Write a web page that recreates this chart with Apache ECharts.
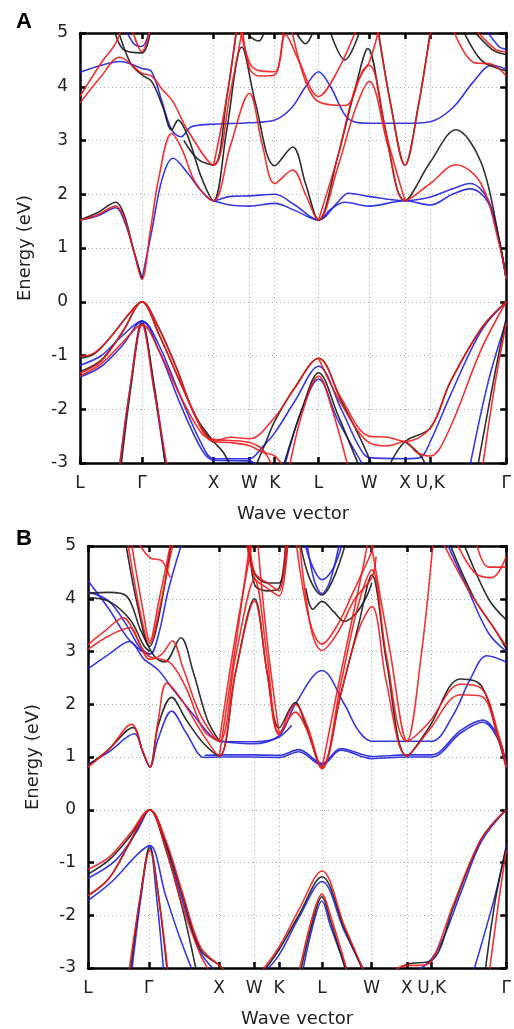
<!DOCTYPE html>
<html>
<head>
<meta charset="utf-8">
<script src="https://cdn.jsdelivr.net/npm/echarts/dist/echarts.min.js"></script>
<style>
html,body{margin:0;padding:0;background:#fff;}
#main{width:514px;height:1029px;}
</style>
</head>
<body>
<div id="main"></div>
<script>
// k-path positions (cumulative distance, units of 2pi/a) and their labels
var kPos = [0, 0.866, 1.866, 2.366, 2.72, 3.332, 4.039, 4.539, 4.893, 5.954];
var kLabels = ['L', 'Γ', 'X', 'W', 'K', 'L', 'W', 'X', 'U,K', 'Γ'];
var eMin = -3, eMax = 5;

// panel A bands, [k, E]
var redA = [
  [[0,1.52],[0.25,1.62],[0.5,1.78],[0.62,1.55],[0.75,0.95],[0.866,0.42],[0.98,1.3],[1.1,2.3],[1.28,3.13],[1.42,2.85],[1.62,2.2],[1.866,1.88],[2.1,2.9],[2.366,3.88],[2.55,2.9],[2.72,2.2],[2.97,2.45],[3.15,2.0],[3.332,1.52],[3.6,2.5],[3.85,3.6],[4.039,4.1],[4.3,2.9],[4.539,1.88],[4.893,2.2],[5.25,2.55],[5.6,2.2],[5.85,1.1],[5.954,0.42]],
  [[0,3.7],[0.3,4.2],[0.55,4.55],[0.866,4.25],[1.0,4.2],[1.15,3.95],[1.3,3.72],[1.5,3.2],[1.866,2.54],[2.1,3.9],[2.3,5.3]],
  [[0,3.82],[0.3,4.45],[0.5,4.81],[0.6,5.2]],
  [[0.7,5.2],[0.866,4.65],[1.0,5.2]],
  [[1.866,2.54],[2.05,3.8],[2.2,5.2]],
  [[2.2,5.3],[2.366,4.45],[2.5,4.3],[2.72,4.28],[2.85,5.2]],
  [[2.25,5.3],[2.366,4.35],[2.5,4.2],[2.72,4.22],[2.87,4.97],[3.05,4.5],[3.332,3.82],[3.6,4.3],[3.9,5.2]],
  [[2.95,5.1],[3.15,4.1],[3.332,3.72],[3.7,3.65],[3.95,4.3],[4.039,4.45],[4.2,5.2]],
  [[3.332,1.52],[3.6,2.7],[3.85,4.0],[4.039,4.4],[4.3,3.0],[4.539,1.88]],
  [[4.16,5.05],[4.35,3.6],[4.539,2.54],[4.72,3.6],[4.9,5.05]],
  [[5.2,5.1],[5.5,4.45],[5.75,4.42],[5.954,4.2]],
  [[5.5,5.1],[5.8,4.7],[5.954,4.65]],
  [[0,-1.02],[0.2,-0.95],[0.45,-0.62],[0.7,-0.2],[0.866,0],[1.05,-0.35],[1.34,-1.21],[1.6,-2.1],[1.866,-2.6],[2.1,-2.52],[2.366,-2.55],[2.72,-2.15],[3.0,-1.6],[3.332,-1.05],[3.65,-1.8],[4.039,-2.5],[4.3,-2.52],[4.539,-2.6],[4.893,-2.35],[5.17,-1.5],[5.62,-0.47],[5.954,0]],
  [[0,-1.33],[0.3,-1.1],[0.6,-0.55],[0.866,0],[1.1,-0.6],[1.4,-1.5],[1.7,-2.35],[1.866,-2.6],[2.1,-2.62],[2.366,-2.68],[2.55,-2.8],[2.72,-2.87],[2.85,-3.1]],
  [[3.332,-1.05],[3.65,-1.9],[4.039,-2.62],[4.3,-2.68],[4.539,-2.6],[4.7,-2.8],[4.893,-2.87],[5.15,-2.4],[5.6,-0.9],[5.954,0]],
  [[0,-1.38],[0.3,-1.15],[0.6,-0.75],[0.866,-0.43],[1.1,-0.9],[1.4,-1.75],[1.7,-2.45],[1.866,-2.56],[2.1,-2.58],[2.366,-2.62],[2.55,-2.75],[2.7,-3.1]],
  [[0.55,-3.1],[0.7,-1.6],[0.866,-0.43],[1.03,-1.6],[1.22,-3.1]],
  [[2.92,-3.1],[3.12,-2.0],[3.332,-1.38],[3.52,-2.0],[3.75,-3.1]],
  [[5.62,-3.1],[5.8,-1.5],[5.954,-0.4]]
];
var blackA = [
  [[0,1.52],[0.25,1.66],[0.5,1.85],[0.62,1.6],[0.75,0.95],[0.866,0.42]],
  [[0.5,5.2],[0.7,4.45],[0.866,4.22],[1.0,4.1],[1.15,3.65],[1.28,3.2],[1.37,3.38],[1.5,3.1],[1.7,2.3],[1.866,1.88],[2.05,3.2],[2.26,4.74],[2.45,3.7],[2.72,2.53],[2.97,2.88],[3.15,2.2],[3.332,1.52],[3.6,2.7],[3.85,4.0],[4.02,4.71],[4.25,3.3],[4.539,1.88],[4.893,2.6],[5.25,3.2],[5.6,2.6],[5.85,1.2],[5.954,0.42]],
  [[0.45,5.2],[0.6,4.7],[0.866,4.63],[1.0,5.2]],
  [[1.45,3.0],[1.65,2.65],[1.866,2.54],[2.05,3.8],[2.2,5.2]],
  [[2.3,5.2],[2.366,4.95],[2.5,4.85],[2.6,5.2]],
  [[2.95,5.2],[3.15,4.8],[3.3,5.2]],
  [[3.45,5.2],[3.7,4.5],[3.95,5.2]],
  [[4.16,5.1],[4.35,3.6],[4.539,2.54],[4.72,3.6],[4.9,5.1]],
  [[5.3,5.2],[5.6,4.5],[5.954,4.3]],
  [[5.4,5.2],[5.75,4.7],[5.954,4.6]],
  [[0,-1.05],[0.2,-0.97],[0.45,-0.62],[0.7,-0.2],[0.866,0],[1.05,-0.35],[1.34,-1.2],[1.6,-2.1],[1.866,-2.6],[2.0,-2.8],[2.12,-3.1]],
  [[0,-1.3],[0.3,-1.08],[0.6,-0.55],[0.866,0],[1.1,-0.6],[1.4,-1.5],[1.7,-2.35],[1.866,-2.62]],
  [[2.44,-3.1],[2.6,-2.6],[2.72,-2.22],[3.0,-1.6],[3.332,-1.05],[3.65,-1.85],[3.9,-2.5],[4.1,-3.1]],
  [[2.83,-3.1],[3.1,-2.0],[3.332,-1.32],[3.6,-2.1],[3.91,-3.1]],
  [[4.3,-3.1],[4.539,-2.6],[4.893,-2.35],[5.17,-1.5],[5.62,-0.47],[5.954,0]],
  [[4.539,-2.6],[4.75,-2.85],[4.85,-3.1]],
  [[0.57,-3.1],[0.72,-1.5],[0.866,-0.4],[1.03,-1.5],[1.2,-3.1]],
  [[5.55,-3.1],[5.8,-1.3],[5.954,-0.3]]
];
var blueA = [
  [[0,1.52],[0.25,1.6],[0.5,1.75],[0.62,1.5],[0.75,0.95],[0.866,0.42]],
  [[0.866,0.42],[1.0,1.3],[1.15,2.3],[1.3,2.67],[1.5,2.4],[1.7,2.05],[1.866,1.88],[2.1,1.96],[2.366,1.97],[2.72,2.0],[3.0,1.8],[3.332,1.52],[3.6,1.85],[3.75,2.02],[4.039,1.96],[4.539,1.88],[4.893,1.95],[5.2,2.1],[5.45,2.2],[5.7,1.9],[5.86,1.1],[5.954,0.42]],
  [[1.866,1.88],[2.1,1.8],[2.366,1.78],[2.72,1.83],[3.0,1.7],[3.332,1.52],[3.5,1.72],[3.7,1.85],[4.039,1.78],[4.539,1.88],[4.893,1.8],[5.2,2.0],[5.45,2.1],[5.7,1.85],[5.86,1.1],[5.954,0.42]],
  [[0,4.27],[0.3,4.4],[0.56,4.47],[0.866,4.34],[1.0,4.28],[1.15,3.7],[1.28,3.2],[1.41,3.07],[1.55,3.25],[1.8,3.3],[2.366,3.33],[2.72,3.38],[2.95,3.6],[3.15,4.0],[3.332,4.28],[3.5,4.0],[3.75,3.4],[4.039,3.32],[4.539,3.32],[4.893,3.35],[5.2,3.6],[5.5,4.1],[5.75,4.4],[5.954,4.33]],
  [[0.6,5.2],[0.75,4.8],[0.866,4.75],[1.0,5.2]],
  [[5.6,5.2],[5.85,4.75],[5.954,4.7]],
  [[0,-1.18],[0.3,-1.0],[0.6,-0.62],[0.866,-0.36],[1.1,-0.8],[1.4,-1.75],[1.7,-2.65],[1.866,-2.92],[2.366,-2.92],[2.55,-2.7],[2.72,-2.44],[3.0,-1.85],[3.332,-1.2],[3.65,-2.0],[3.9,-2.7],[4.039,-2.9],[4.539,-2.92],[4.75,-2.9],[4.893,-2.6],[5.17,-1.75],[5.6,-0.55],[5.954,0]],
  [[0,-1.4],[0.3,-1.2],[0.6,-0.8],[0.866,-0.36],[1.1,-0.9],[1.4,-1.9],[1.7,-2.75],[1.866,-2.95],[2.366,-2.96],[2.5,-3.1]],
  [[0.55,-3.1],[0.7,-1.6],[0.866,-0.36],[1.03,-1.6],[1.2,-3.1]],
  [[2.85,-3.1],[3.1,-2.0],[3.332,-1.44],[3.6,-2.2],[3.98,-3.1]],
  [[5.44,-3.1],[5.7,-1.5],[5.954,-0.36]]
];

// panel B bands, [k, E]
var redB = [
  [[0,0.81],[0.3,1.15],[0.62,1.62],[0.78,1.1],[0.88,0.81],[1.0,1.7],[1.12,2.4],[1.35,2.05],[1.65,1.4],[1.87,1.02],[2.1,2.6],[2.37,3.96],[2.55,2.6],[2.72,1.45],[2.95,1.85],[3.12,1.5],[3.33,0.78],[3.6,2.2],[3.85,3.4],[4.04,3.85],[4.25,2.4],[4.54,1.02],[4.85,1.5],[5.3,2.18],[5.6,2.15],[5.85,1.3],[5.954,0.8]],
  [[0,3.13],[0.25,3.4],[0.5,3.64],[0.7,3.25],[0.88,2.85],[1.05,2.95],[1.2,3.2],[1.35,2.7],[1.6,1.8],[1.87,1.3],[2.1,2.9],[2.37,4.36],[2.55,2.9],[2.72,1.42],[2.95,2.0],[3.12,1.6],[3.33,0.8],[3.6,2.4],[3.85,3.9],[4.04,4.55],[4.25,2.9],[4.54,1.3],[4.85,1.65],[5.3,2.38],[5.6,2.3],[5.85,1.4],[5.954,0.82]],
  [[0,3.04],[0.3,3.3],[0.6,3.45],[0.75,3.1],[0.88,2.9],[1.05,2.85],[1.2,2.75],[1.4,2.3],[1.65,1.5],[1.87,1.3]],
  [[0.55,5.2],[0.75,3.7],[0.88,3.15],[1.0,3.7],[1.23,5.2]],
  [[0.6,5.2],[0.78,3.8],[0.88,3.2],[1.0,3.9],[1.2,5.2]],
  [[0.7,5.1],[0.88,4.78],[1.05,4.72],[1.12,4.55],[1.17,4.4]],
  [[1.87,1.3],[2.1,3.3],[2.37,5.3]],
  [[1.87,1.02],[2.1,3.1],[2.33,5.3]],
  [[2.4,5.3],[2.55,3.2],[2.72,1.45]],
  [[2.25,5.2],[2.37,4.4],[2.55,4.2],[2.72,4.05],[2.85,5.2]],
  [[2.3,5.2],[2.37,4.5],[2.55,4.3],[2.72,4.15],[2.82,5.2]],
  [[2.95,5.2],[3.15,3.6],[3.33,3.14],[3.55,3.5],[3.8,4.2],[4.04,4.9],[4.1,5.2]],
  [[3.0,5.2],[3.18,3.4],[3.33,3.02],[3.55,3.35],[3.8,4.0],[4.04,4.4],[4.1,4.8]],
  [[3.33,0.78],[3.6,2.6],[3.9,4.5],[4.0,5.2]],
  [[4.01,5.2],[4.3,3.0],[4.54,1.3],[4.75,3.0],[4.92,5.2]],
  [[5.0,5.2],[5.4,4.2],[5.7,3.6],[5.954,3.1]],
  [[5.2,5.2],[5.5,4.5],[5.75,4.4],[5.954,4.8]],
  [[5.5,5.2],[5.7,4.6],[5.954,4.6]],
  [[0,-1.13],[0.3,-0.9],[0.6,-0.45],[0.88,0],[1.1,-0.55],[1.34,-1.55],[1.6,-2.6],[1.87,-2.95],[2.0,-3.1]],
  [[2.45,-3.1],[2.72,-2.6],[3.0,-1.9],[3.33,-1.16],[3.65,-2.2],[3.94,-3.1]],
  [[4.3,-3.1],[4.54,-2.95],[4.75,-2.95],[4.9,-2.85],[5.2,-1.8],[5.6,-0.55],[5.954,0]],
  [[0,-1.63],[0.3,-1.3],[0.6,-0.6],[0.88,0],[1.1,-0.7],[1.34,-1.8],[1.6,-2.75],[1.75,-3.1]],
  [[0.58,-3.1],[0.75,-1.6],[0.88,-0.77],[1.0,-1.6],[1.14,-3.1]],
  [[3.0,-3.1],[3.2,-2.0],[3.33,-1.6],[3.45,-2.0],[3.7,-3.1]],
  [[5.71,-3.1],[5.85,-1.7],[5.954,-0.77]]
];
var blackB = [
  [[0,0.83],[0.3,1.15],[0.64,1.56],[0.78,1.1],[0.88,0.81],[1.0,1.6],[1.19,2.13],[1.4,1.7],[1.65,1.25],[1.87,1.02],[2.1,2.6],[2.37,4.0],[2.55,2.6],[2.72,1.55],[2.95,2.03],[3.1,1.6],[3.33,0.8],[3.6,2.2],[3.85,3.5],[4.04,4.45],[4.25,2.8],[4.54,1.02],[4.85,1.55],[5.3,2.48],[5.6,2.35],[5.85,1.3],[5.954,0.8]],
  [[0,4.1],[0.3,4.12],[0.55,4.05],[0.75,3.4],[0.95,2.9],[1.09,2.8],[1.32,3.26],[1.5,2.6],[1.7,1.7],[1.87,1.3]],
  [[0,4.02],[0.3,3.95],[0.6,3.6],[0.8,3.1],[0.88,3.0]],
  [[0.52,5.2],[0.7,3.9],[0.88,3.1],[1.0,3.6],[1.2,5.2]],
  [[2.25,5.2],[2.37,4.48],[2.55,4.3],[2.72,4.3],[2.85,5.2]],
  [[2.3,5.2],[2.37,4.27],[2.55,4.15],[2.72,4.2],[2.82,5.2]],
  [[3.0,5.2],[3.15,4.4],[3.33,4.07],[3.5,4.4],[3.7,5.2]],
  [[3.1,4.2],[3.2,3.8],[3.33,3.95],[3.5,3.75],[3.65,3.57],[3.8,3.7],[3.95,4.0],[4.04,4.3]],
  [[5.1,5.2],[5.5,4.0],[5.8,3.4],[5.954,3.05]],
  [[5.3,5.2],[5.7,4.0],[5.954,3.6]],
  [[0,-1.22],[0.3,-0.95],[0.6,-0.5],[0.88,0],[1.1,-0.6],[1.34,-1.6],[1.6,-2.65],[1.87,-2.95],[2.0,-3.1]],
  [[2.48,-3.1],[2.72,-2.65],[3.0,-2.0],[3.33,-1.27],[3.65,-2.25],[3.93,-3.1]],
  [[4.35,-3.1],[4.54,-2.93],[4.9,-2.85],[5.2,-1.85],[5.6,-0.55],[5.954,0]],
  [[0,-1.63],[0.3,-1.3],[0.6,-0.62],[0.88,0],[1.1,-0.72],[1.34,-1.85],[1.55,-3.1]],
  [[0.6,-3.1],[0.75,-1.6],[0.88,-0.72],[1.0,-1.6],[1.13,-3.1]],
  [[3.02,-3.1],[3.2,-2.1],[3.33,-1.65],[3.45,-2.1],[3.68,-3.1]],
  [[5.65,-3.1],[5.8,-1.7],[5.954,-0.72]]
];
var blueB = [
  [[0,0.86],[0.3,1.1],[0.66,1.44],[0.78,1.1],[0.88,0.81],[1.0,1.35],[1.19,1.87],[1.4,1.45],[1.66,0.99],[1.87,1.0],[2.37,1.0],[2.72,0.99],[3.0,1.1],[3.33,0.85],[3.6,1.13],[4.04,0.97],[4.54,1.0],[4.893,1.0],[5.3,1.45],[5.62,1.66],[5.85,1.3],[5.954,0.8]],
  [[1.66,1.03],[1.87,1.04],[2.37,1.04],[2.72,1.03],[3.0,1.14],[3.33,0.88],[3.6,1.16],[4.04,1.01],[4.54,1.04],[4.893,1.04],[5.3,1.5],[5.62,1.7],[5.85,1.35],[5.954,0.82]],
  [[0,2.67],[0.3,2.95],[0.59,3.19],[0.8,2.85],[1.0,2.65],[1.2,2.3],[1.5,1.8],[1.75,1.4],[1.87,1.3],[2.37,1.29],[2.72,1.4],[2.95,2.0],[3.33,2.64],[3.65,2.0],[3.85,1.5],[4.04,1.3],[4.54,1.3],[4.893,1.3],[5.2,1.8],[5.45,2.5],[5.68,2.92],[5.954,2.8]],
  [[1.87,1.3],[2.37,1.25],[2.72,1.38],[2.9,1.6]],
  [[0,4.34],[0.3,3.8],[0.6,3.2],[0.88,2.95],[1.0,3.3],[1.15,4.2],[1.37,5.2]],
  [[0,4.13],[0.3,3.95],[0.55,3.5],[0.75,3.05],[0.88,2.95]],
  [[3.05,5.2],[3.2,4.6],[3.33,4.36],[3.5,4.6],[3.65,5.2]],
  [[3.1,5.2],[3.22,4.35],[3.33,4.1],[3.45,4.35],[3.6,5.2]],
  [[5.06,5.2],[5.4,4.2],[5.7,3.35],[5.954,3.0]],
  [[0,-1.3],[0.4,-0.95],[0.7,-0.4],[0.88,0],[1.1,-0.65],[1.34,-1.7],[1.6,-2.7],[1.85,-3.1]],
  [[2.5,-3.1],[2.72,-2.75],[3.0,-2.05],[3.33,-1.36],[3.65,-2.3],[3.95,-3.1]],
  [[4.45,-3.1],[4.75,-3.0],[5.0,-2.6],[5.3,-1.6],[5.6,-0.6],[5.954,0]],
  [[0,-1.72],[0.35,-1.35],[0.7,-0.85],[0.88,-0.68],[1.1,-1.6],[1.3,-2.4],[1.5,-3.1]],
  [[0.62,-3.1],[0.75,-1.7],[0.88,-0.68],[0.98,-1.7],[1.08,-3.1]],
  [[3.05,-3.1],[3.2,-2.2],[3.33,-1.73],[3.45,-2.2],[3.7,-3.1]],
  [[5.48,-3.1],[5.8,-1.6],[5.954,-0.68]]
];

var FONT = 'DejaVu Sans';

var kLabel = function (v) {
  for (var i = 0; i < kPos.length; i++) {
    if (Math.abs(kPos[i] - v) < 1e-6) return kLabels[i];
  }
  return '';
};

var kAxis = function (gi, top) {
  return {
    type: 'value', gridIndex: gi, position: top ? 'top' : 'bottom',
    min: 0, max: kPos[kPos.length - 1],
    name: top ? '' : 'Wave vector', nameLocation: 'middle', nameGap: 42,
    nameTextStyle: {color: '#222', fontSize: 18, fontFamily: FONT},
    axisLine: {onZero: false, lineStyle: {color: '#000', width: 2.5}},
    axisTick: {inside: true, length: 6, customValues: kPos, lineStyle: {color: '#000', width: 2.5}},
    axisLabel: {show: !top, customValues: kPos, formatter: kLabel, color: '#222', fontSize: 17, margin: 12, fontFamily: FONT},
    splitLine: {show: !top, lineStyle: {color: '#aaa', type: [1, 3], width: 1}}
  };
};

var eAxis = function (gi, right) {
  return {
    type: 'value', gridIndex: gi, position: right ? 'right' : 'left',
    min: eMin, max: eMax, interval: 1,
    name: right ? '' : 'Energy (eV)', nameLocation: 'middle', nameGap: 46,
    nameTextStyle: {color: '#222', fontSize: 18, fontFamily: FONT},
    axisLine: {onZero: false, lineStyle: {color: '#000', width: 2.5}},
    axisTick: {inside: true, length: 6, lineStyle: {color: '#000', width: 2.5}},
    axisLabel: {show: !right, color: '#222', fontSize: 17, margin: 12, fontFamily: FONT},
    splitLine: {show: !right, lineStyle: {color: '#aaa', type: [1, 3], width: 1}}
  };
};

var series = [];
var addBands = function (bands, color, gi) {
  for (var i = 0; i < bands.length; i++) {
    series.push({
      type: 'line', xAxisIndex: gi * 2, yAxisIndex: gi * 2,
      data: bands[i], showSymbol: false, smooth: 0.35,
      clip: true, silent: true,
      lineStyle: {color: color, width: 1.6, opacity: 0.9}
    });
  }
};
addBands(blueA, '#2222dd', 0);
addBands(blackA, '#1a1a1a', 0);
addBands(redA, '#f01c1c', 0);
addBands(blueB, '#2222dd', 1);
addBands(blackB, '#1a1a1a', 1);
addBands(redB, '#f01c1c', 1);

var chart = echarts.init(document.getElementById('main'));
chart.setOption({
  animation: false,
  backgroundColor: '#fff',
  title: [
    {text: 'A', left: 11, top: 6, textStyle: {fontSize: 22, fontWeight: 'bold', color: '#000', fontFamily: 'Liberation Sans'}},
    {text: 'B', left: 11, top: 523, textStyle: {fontSize: 22, fontWeight: 'bold', color: '#000', fontFamily: 'Liberation Sans'}}
  ],
  grid: [
    {left: 80, top: 33, width: 432, height: 430},
    {left: 88, top: 546, width: 424, height: 424}
  ],
  xAxis: [kAxis(0, false), kAxis(0, true), kAxis(1, false), kAxis(1, true)],
  yAxis: [eAxis(0, false), eAxis(0, true), eAxis(1, false), eAxis(1, true)],
  series: series
});
</script>
</body>
</html>
